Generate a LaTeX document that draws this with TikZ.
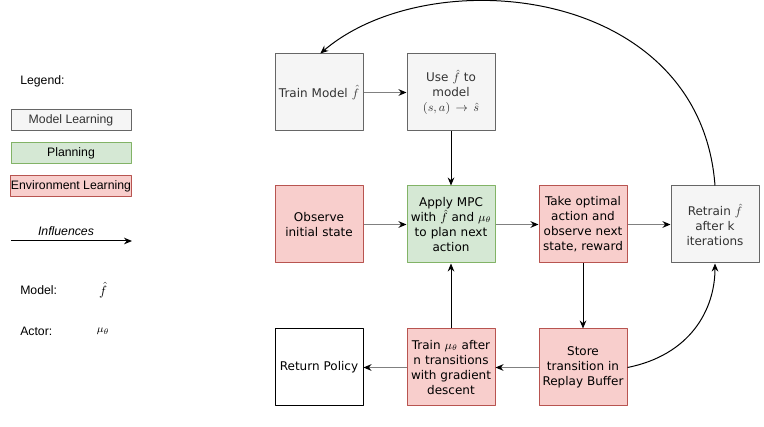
\documentclass[tikz,border=0pt]{standalone}
\usepackage{amsmath}
\usepackage{fontspec}
\setmainfont{DejaVu Sans}
\newfontfamily\legendfont{Liberation Sans}
\usetikzlibrary{arrows.meta, positioning}
\definecolor{dio-grayfill}{HTML}{F5F5F5}
\definecolor{dio-graydraw}{HTML}{666666}
\definecolor{dio-graytext}{HTML}{333333}
\definecolor{dio-greenfill}{HTML}{D5E8D4}
\definecolor{dio-greendraw}{HTML}{82B366}
\definecolor{dio-redfill}{HTML}{F8CECC}
\definecolor{dio-reddraw}{HTML}{B85450}
\definecolor{dio-edge}{HTML}{808080}

\begin{document}
\begin{tikzpicture}[x=0.75pt, y=-0.75pt, >=Stealth, line join=round,
  stepnode/.style={draw, line width=0.75pt, minimum width=66pt, minimum height=57.75pt,
    text width=62pt, align=center, inner sep=1pt,
    font=\fontsize{9}{11.2}\selectfont},
  modelbox/.style={stepnode, fill=dio-grayfill, draw=dio-graydraw, text=dio-graytext},
  planbox/.style={stepnode, fill=dio-greenfill, draw=dio-greendraw},
  envbox/.style={stepnode, fill=dio-redfill, draw=dio-reddraw},
  endbox/.style={stepnode, fill=white, draw=black},
  legbox/.style={draw, line width=0.75pt, minimum width=90pt, minimum height=15.75pt,
    inner sep=0pt, font=\legendfont\fontsize{9.2}{10}\selectfont},
  legtext/.style={font=\legendfont\fontsize{9.2}{10}\selectfont, inner sep=0pt},
  flow/.style={->, line width=0.75pt, >={Stealth[length=6pt, width=5pt]}},
  hflow/.style={flow, draw=dio-edge, >={Stealth[length=6pt, width=5pt, black]}}]
  \useasboundingbox (0,0) rectangle (764,427);
  % legende
  \node[legtext, anchor=west] (legend) at (20,81) {Legend:};
  \node[legbox, fill=dio-grayfill, draw=dio-graydraw, text=dio-graytext] (legmodel) at (71,120.5) {Model Learning};
  \node[legbox, fill=dio-greenfill, draw=dio-greendraw] (legplan) at (71,153.5) {Planning};
  \node[legbox, fill=dio-redfill, draw=dio-reddraw] (legenv) at (71,186.5) {Environment Learning};
  \coordinate (inflA) at (11,241);
  \coordinate (inflB) at (132,241);
  \draw[flow] (inflA) -- (inflB);
  \node[legtext, font=\legendfont\itshape\fontsize{9.2}{10}\selectfont] (infl) at (66,231) {Influences};
  \node[legtext, anchor=west] (modellbl) at (20,290) {Model:};
  \node[inner sep=0pt] (modelsym) at (103,290) {$\hat{f}$};
  \node[legtext, anchor=west] (actorlbl) at (20,331) {Actor:};
  \node[inner sep=0pt] (actorsym) at (103,331) {\footnotesize$\mu_\theta$};
  % modellæring
  \node[modelbox] (train) at (319,92.5) {Train Model $\hat{f}$};
  \node[modelbox] (use) at (451,92.5) {Use $\hat{f}$ to\\model\\$(s,a)\rightarrow\hat{s}$};
  % midterste række
  \node[envbox] (observe) at (319,224.5) {Observe\\initial state};
  \node[planbox] (mpc) at (451,224.5) {Apply MPC\\with $\hat{f}$ and $\mu_\theta$\\to plan next\\action};
  \node[envbox] (act) at (583,224.5) {Take optimal\\action and\\observe next\\state, reward};
  \node[modelbox] (retrain) at (715,224.5) {Retrain $\hat{f}$\\after k\\iterations};
  % nederste række
  \node[endbox] (policy) at (319,367.5) {Return Policy};
  \node[envbox] (trainmu) at (451,367.5) {Train $\mu_\theta$ after\\n transitions\\with gradient\\descent};
  \node[envbox] (store) at (583,367.5) {Store\\transition in\\Replay Buffer};
  % forbindelser
  \draw[hflow] (train) -- (use);
  \draw[flow] (use) -- (mpc);
  \draw[hflow] (observe) -- (mpc);
  \draw[hflow] (mpc) -- (act);
  \draw[hflow] (act) -- (retrain);
  \draw[flow] (act) -- (store);
  \draw[hflow] (store) -- (trainmu);
  \draw[hflow] (trainmu) -- (policy);
  \draw[flow] (trainmu) -- (mpc);
  \draw[flow] (store.east) .. controls (690,355) and (715,310) .. (retrain.south);
  \draw[flow] (retrain.north) .. controls (700,-15) and (430,-40) .. ([xshift=1pt]train.north);
\end{tikzpicture}
\end{document}
